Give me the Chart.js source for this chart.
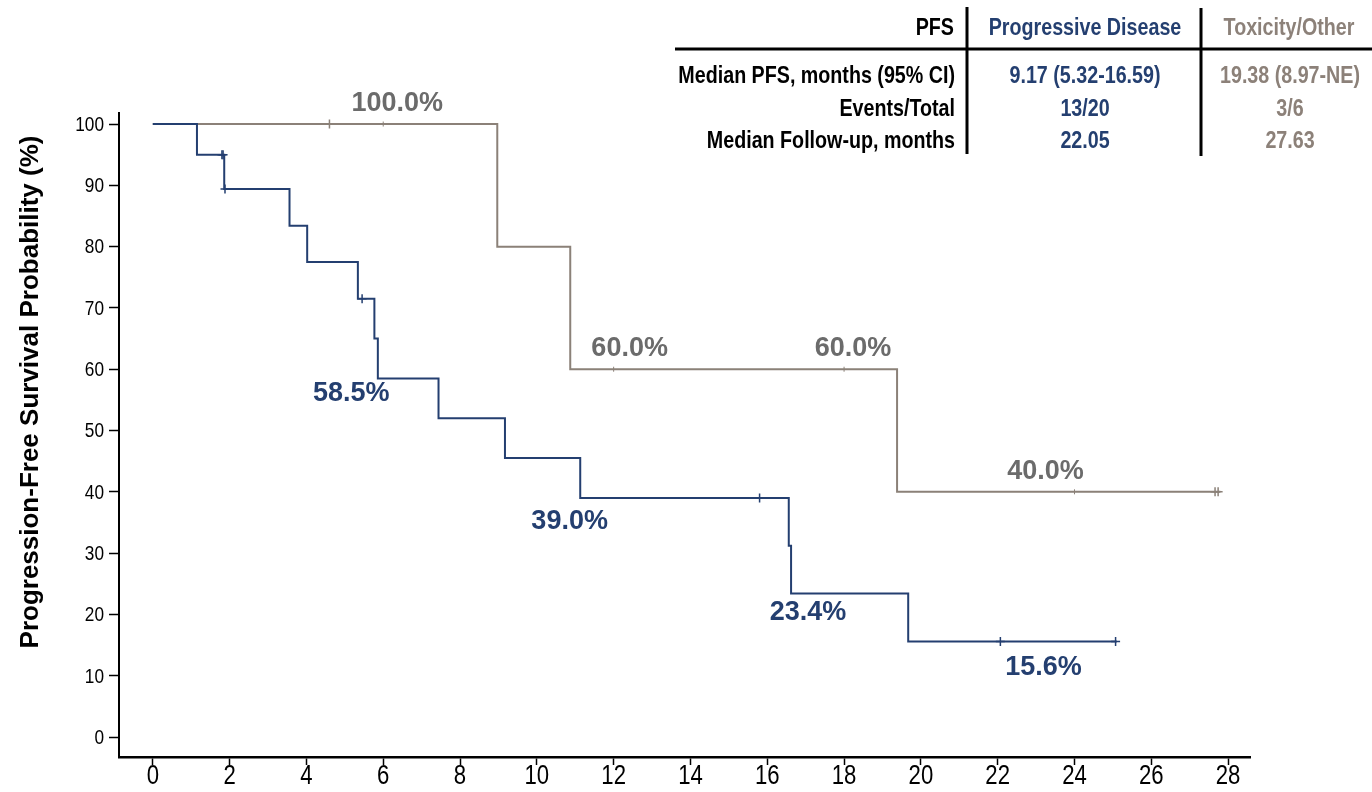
<!DOCTYPE html>
<html>
<head>
<meta charset="utf-8">
<script src="https://cdn.jsdelivr.net/npm/chart.js@4.4.0/dist/chart.umd.min.js"></script>
<style>
  html, body { margin: 0; padding: 0; background: #fff; }
  #wrap { position: relative; width: 1372px; height: 792px; }
</style>
</head>
<body>
<div id="wrap"><canvas id="kmChart"></canvas></div>
<script>
// Progressive Disease curve (step points: time in months, survival %)
const pdTimes = [0, 1.15, 1.86, 3.56, 4.02, 5.34, 5.77, 5.86, 7.44, 9.17, 11.13, 16.56, 16.62, 19.67, 25.1];
const pdSurv  = [100, 95.0, 89.4, 83.4, 77.5, 71.5, 65.0, 58.5, 52.0, 45.5, 39.0, 31.2, 23.4, 15.6, 15.6];
const pdCensorTimes = [1.80, 1.83, 1.88, 5.45, 15.80, 22.07, 25.07];
const pdCensorSurv  = [95.0, 95.0, 89.4, 71.5, 39.0, 15.6, 15.6];

// Toxicity/Other curve
const toxTimes = [0, 8.97, 10.87, 19.38, 27.8];
const toxSurv  = [100, 80, 60, 40, 40];
const toxCensorTimes = [4.6, 27.66, 27.74];
const toxCensorSurv  = [100, 40, 40];

// landmark estimates (6, 12, 18, 24 months)
const landmarkTimes = [6, 12, 18, 24];
const pdLandmarkSurv  = [58.5, 39.0, 23.4, 15.6];
const toxLandmarkSurv = [100, 60, 60, 40];

// axes
const xTicks = [0, 2, 4, 6, 8, 10, 12, 14, 16, 18, 20, 22, 24, 26, 28];
const yTicks = [0, 10, 20, 30, 40, 50, 60, 70, 80, 90, 100];

// summary table
const tableHeaders = ['PFS', 'Progressive Disease', 'Toxicity/Other'];
const tableRowLabels = ['Median PFS, months (95% CI)', 'Events/Total', 'Median Follow-up, months'];
const pdTableValues  = ['9.17 (5.32-16.59)', '13/20', '22.05'];
const toxTableValues = ['19.38 (8.97-NE)', '3/6', '27.63'];

const BLUE = '#243f70';
const GRAY_LINE = '#8b8178';
const GRAY_LABEL = '#6b6b6b';
const GRAY_TEXT = '#8c8179';
const SANS = '"Liberation Sans", Arial, Helvetica, sans-serif';
const NARROW = 0.82; // Arial Narrow ~ Arial squeezed to 82%

const pts = (xs, ys) => xs.map((x, i) => ({ x: x, y: ys[i] }));

// label offsets from the landmark point (pixels)
const pdLabelOffset  = [[-32, 15], [-44, 24], [-36, 19], [-31, 26]];
const toxLabelOffset = [[14, -20], [16, -21], [9, -21], [-29, -20]];

// text squeezed horizontally
function squeezed(ctx, text, x, y, align, sx) {
  ctx.save();
  ctx.translate(x, y);
  ctx.scale(sx, 1);
  ctx.textAlign = align;
  ctx.fillText(text, 0, 0);
  ctx.restore();
}

const annotations = {
  id: 'annotations',
  afterDraw(chart) {
    const ctx = chart.ctx;
    const xs = chart.scales.x, ys = chart.scales.y;
    ctx.save();
    ctx.textBaseline = 'middle';

    // tick labels
    ctx.fillStyle = '#000';
    ctx.font = '27px ' + SANS;
    xTicks.forEach(v => squeezed(ctx, String(v), xs.getPixelForValue(v), 777, 'center', NARROW));
    ctx.font = '21px ' + SANS;
    yTicks.forEach(v => squeezed(ctx, String(v), 104, ys.getPixelForValue(v) + 1, 'right', NARROW));

    // percentage labels
    ctx.textAlign = 'center';
    ctx.font = 'bold 27px ' + SANS;
    landmarkTimes.forEach((t, i) => {
      ctx.fillStyle = BLUE;
      ctx.fillText(pdLandmarkSurv[i].toFixed(1) + '%',
        xs.getPixelForValue(t) + pdLabelOffset[i][0], ys.getPixelForValue(pdLandmarkSurv[i]) + pdLabelOffset[i][1]);
      ctx.fillStyle = GRAY_LABEL;
      ctx.fillText(toxLandmarkSurv[i].toFixed(1) + '%',
        xs.getPixelForValue(t) + toxLabelOffset[i][0], ys.getPixelForValue(toxLandmarkSurv[i]) + toxLabelOffset[i][1]);
    });

    // y axis title
    ctx.save();
    ctx.translate(31, 392);
    ctx.rotate(-Math.PI / 2);
    ctx.fillStyle = '#000';
    ctx.font = 'bold 26px ' + SANS;
    ctx.textAlign = 'center';
    ctx.fillText('Progression-Free Survival Probability (%)', 0, 0);
    ctx.restore();

    // table
    ctx.font = 'bold 24px ' + SANS;
    ctx.fillStyle = '#000';
    squeezed(ctx, tableHeaders[0], 954, 28, 'right', NARROW);
    ctx.fillStyle = BLUE;
    squeezed(ctx, tableHeaders[1], 1085, 28, 'center', NARROW);
    ctx.fillStyle = GRAY_TEXT;
    squeezed(ctx, tableHeaders[2], 1289, 28, 'center', NARROW);
    const rowY = [76, 109, 141];
    tableRowLabels.forEach((lab, i) => {
      ctx.fillStyle = '#000';
      squeezed(ctx, lab, 955, rowY[i], 'right', NARROW);
      ctx.fillStyle = BLUE;
      squeezed(ctx, pdTableValues[i], 1085, rowY[i], 'center', NARROW);
      ctx.fillStyle = GRAY_TEXT;
      squeezed(ctx, toxTableValues[i], 1290, rowY[i], 'center', NARROW);
    });
    ctx.strokeStyle = '#000';
    ctx.lineWidth = 3;
    ctx.beginPath();
    ctx.moveTo(675, 49); ctx.lineTo(1372, 49);
    ctx.moveTo(967, 7); ctx.lineTo(967, 154);
    ctx.moveTo(1201, 8); ctx.lineTo(1201, 156);
    ctx.stroke();

    ctx.restore();
  }
};

new Chart(document.getElementById('kmChart'), {
  type: 'line',
  data: {
    datasets: [
      { data: pts(pdTimes, pdSurv), stepped: true, borderColor: BLUE, borderWidth: 2, pointRadius: 0, fill: false },
      { data: pts(toxTimes, toxSurv), stepped: true, borderColor: GRAY_LINE, borderWidth: 2, pointRadius: 0, fill: false },
      { data: pts(pdCensorTimes, pdCensorSurv), showLine: false, pointStyle: 'cross', pointRadius: 4.5,
        borderColor: BLUE, borderWidth: 1.5 },
      { data: pts(toxCensorTimes, toxCensorSurv), showLine: false, pointStyle: 'cross', pointRadius: 4.5,
        borderColor: GRAY_LINE, borderWidth: 1.5 },
      { data: pts(landmarkTimes, toxLandmarkSurv), showLine: false, pointStyle: 'line', pointRotation: 90,
        pointRadius: 2.5, borderColor: GRAY_LINE, borderWidth: 1 }
    ]
  },
  options: {
    responsive: true,
    maintainAspectRatio: false,
    animation: false,
    layout: { padding: { top: 113, right: 122, left: 0, bottom: 0 } },
    plugins: { legend: { display: false }, tooltip: { enabled: false } },
    scales: {
      x: {
        type: 'linear',
        min: -0.88,
        max: 28.57,
        afterBuildTicks: s => { s.ticks = xTicks.map(v => ({ value: v })); },
        afterFit: s => { s.height = 35; },
        grid: { drawOnChartArea: false, drawTicks: true, tickLength: 8, tickWidth: 1.5, tickColor: '#000' },
        border: { display: true, color: '#000', width: 2.5 },
        ticks: { display: false }
      },
      y: {
        type: 'linear',
        min: -3.26,
        max: 101.8,
        afterBuildTicks: s => { s.ticks = yTicks.map(v => ({ value: v })); },
        afterFit: s => { s.width = 119; },
        grid: { drawOnChartArea: false, drawTicks: true, tickLength: 10, tickWidth: 1.5, tickColor: '#000' },
        border: { display: true, color: '#000', width: 2 },
        ticks: { display: false }
      }
    }
  },
  plugins: [annotations]
});
</script>
</body>
</html>
